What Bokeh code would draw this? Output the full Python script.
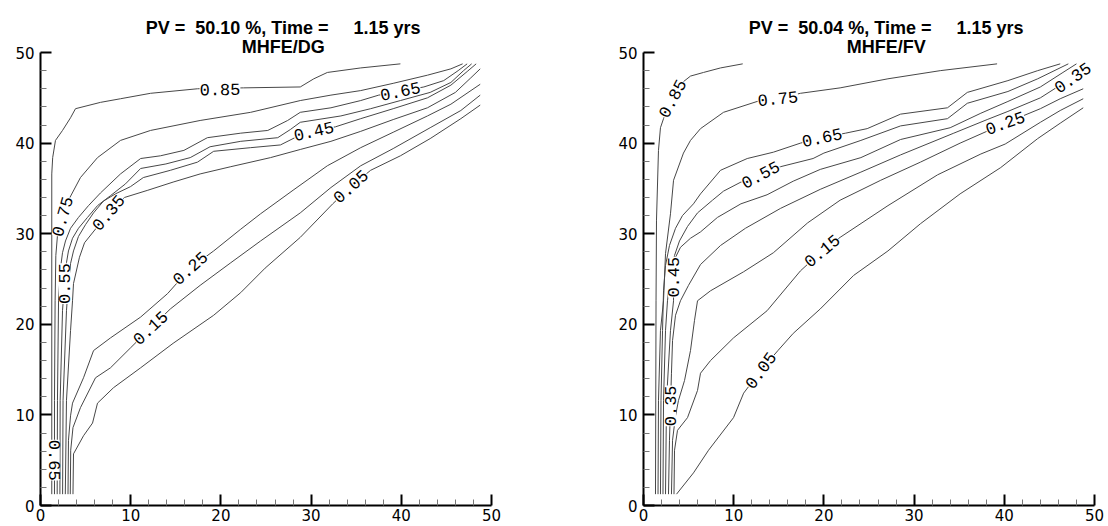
from bokeh.plotting import figure
from bokeh.layouts import row
from bokeh.models import Range1d, FixedTicker
from bokeh.core.properties import value
from bokeh.embed import file_html
from bokeh.resources import INLINE

# ---------------- shared axis data ----------------
major_ticks = [0, 10, 20, 30, 40, 50]
minor_ticks = [v for v in range(0, 51, 2) if v % 10 != 0]

# ---------------- panel 1: MHFE/DG ----------------
dg_title_1 = "PV =  50.10 %, Time =     1.15 yrs"
dg_title_2 = "MHFE/DG"

dg_085_x = [1.25, 1.25, 1.35, 1.66, 2.44, 3.33, 3.88, 6.65, 8.87, 12.2, 17.4, 22.5, 28.8, 30.3, 31.8, 35.5, 39.9]
dg_085_y = [1.25, 36.6, 38.4, 40.3, 41.4, 42.8, 43.8, 44.5, 44.9, 45.5, 46.0, 46.1, 46.2, 47.1, 47.8, 48.3, 48.75]
dg_075_x = [1.55, 1.55, 1.62, 1.7, 1.88, 2.44, 3.10, 4.43, 6.32, 8.87, 12.2, 17.7, 23.3, 28.8, 32.2, 35.5, 39.1, 42.9, 45.5, 46.8]
dg_075_y = [1.25, 11.6, 22.6, 27.6, 29.8, 31.9, 33.7, 36.2, 38.4, 40.3, 41.4, 42.5, 43.4, 44.7, 45.3, 45.8, 46.6, 47.5, 48.2, 48.75]
dg_065_x = [1.85, 1.88, 2.0, 2.22, 2.44, 2.77, 3.33, 4.21, 5.32, 6.65, 8.87, 11.1, 13.3, 15.9, 18.5, 22.2, 25.2, 27.4, 28.8, 32.2, 35.5, 37.5, 39.9, 42.5, 44.7, 46.3, 47.3]
dg_065_y = [1.25, 11.6, 22.6, 26.2, 27.9, 29.2, 30.6, 31.8, 33.1, 34.5, 36.6, 38.3, 38.6, 39.2, 40.6, 41.1, 41.4, 42.5, 43.4, 43.9, 44.7, 45.3, 45.7, 46.2, 46.9, 48.0, 48.75]
dg_055_x = [2.15, 2.18, 2.44, 2.66, 2.88, 3.10, 3.55, 4.21, 5.21, 6.32, 7.76, 9.42, 11.1, 13.9, 16.6, 18.8, 22.2, 26.3, 27.7, 28.8, 33.3, 36.6, 39.9, 43.2, 45.5, 46.9, 47.8]
dg_055_y = [1.25, 11.6, 21.5, 24.5, 26.8, 28.1, 29.5, 30.6, 31.8, 33.1, 34.2, 35.5, 37.2, 37.7, 38.4, 39.6, 40.2, 40.6, 41.5, 42.3, 43.0, 43.8, 44.7, 45.6, 46.7, 48.0, 48.75]
dg_045_x = [2.45, 2.5, 2.88, 3.10, 3.33, 3.66, 4.21, 4.99, 5.88, 6.98, 8.31, 9.98, 11.4, 14.4, 17.4, 19.2, 23.3, 26.6, 28.4, 30.3, 32.7, 35.5, 39.1, 42.9, 45.5, 47.3, 48.3]
dg_045_y = [1.25, 11.6, 21.5, 24.5, 26.7, 28.1, 29.7, 31.0, 32.3, 33.6, 34.4, 35.2, 36.2, 37.0, 37.9, 39.1, 39.5, 39.8, 40.7, 41.3, 41.8, 42.7, 43.8, 45.0, 46.4, 47.9, 48.75]
dg_035_x = [2.75, 2.88, 3.33, 3.55, 3.66, 4.32, 4.88, 7.54, 9.31, 11.9, 14.7, 17.7, 21.1, 25.5, 28.8, 32.2, 35.5, 39.1, 42.9, 46.0, 47.7, 48.75]
dg_035_y = [1.25, 11.6, 19.3, 22.6, 24.5, 27.4, 29.0, 32.3, 34.0, 34.8, 35.7, 36.6, 37.4, 38.4, 39.3, 40.2, 41.3, 42.6, 43.9, 45.6, 47.2, 48.2]
dg_025_x = [3.05, 3.1, 3.33, 3.55, 4.77, 5.88, 7.76, 11.1, 14.1, 16.6, 19.2, 22.2, 24.4, 28.0, 31.8, 35.5, 39.1, 42.9, 45.5, 48.75]
dg_025_y = [1.25, 7.2, 9.9, 11.3, 14.1, 17.1, 18.5, 20.8, 23.4, 26.2, 28.1, 30.5, 32.2, 34.8, 37.5, 39.5, 41.2, 43.0, 44.3, 46.5]
dg_015_x = [3.3, 3.35, 3.6, 4.43, 6.10, 7.76, 9.98, 12.2, 14.4, 17.7, 21.1, 24.4, 28.8, 32.2, 35.5, 39.1, 43.2, 46.6, 48.75]
dg_015_y = [1.25, 6.1, 8.6, 10.8, 14.1, 15.2, 17.4, 19.6, 21.7, 24.3, 26.8, 29.2, 32.3, 35.1, 37.5, 39.4, 41.7, 43.6, 45.3]
dg_005_x = [3.6, 3.66, 4.77, 5.77, 6.32, 8.09, 11.1, 14.7, 19.2, 22.2, 24.9, 28.8, 32.4, 34.4, 36.6, 39.9, 43.2, 46.6, 48.75]
dg_005_y = [1.25, 5.7, 7.7, 9.1, 11.3, 13.0, 15.2, 17.9, 21.0, 23.5, 26.2, 29.6, 33.3, 35.2, 37.0, 38.6, 40.5, 42.7, 44.2]

dg_lab_text = ["0.85", "0.75", "0.65", "0.45", "0.35", "0.55", "0.65", "0.25", "0.15", "0.05"]
dg_lab_x = [19.9, 2.44, 39.9, 30.3, 7.54, 2.66, 1.5, 16.6, 12.2, 34.4]
dg_lab_y = [45.9, 31.9, 45.7, 41.3, 32.3, 24.5, 5.0, 26.2, 19.6, 35.2]
dg_lab_angle = [1, 74, 12, 13, 50, 90, -90, 42, 43, 42]

# ---------------- panel 2: MHFE/FV ----------------
fv_title_1 = "PV =  50.04 %, Time =     1.15 yrs"
fv_title_2 = "MHFE/FV"

fv_085_x = [1.33, 1.39, 1.44, 1.66, 1.88, 2.22, 3.22, 4.32, 5.21, 6.65, 8.54, 11.0]
fv_085_y = [1.25, 22.6, 31.5, 39.2, 41.7, 42.7, 44.9, 46.7, 47.4, 47.8, 48.3, 48.75]
fv_075_x = [1.61, 1.66, 1.88, 2.22, 2.44, 2.99, 3.33, 4.43, 5.21, 6.32, 8.87, 12.6, 14.9, 17.4, 21.8, 27.1, 32.9, 39.2]
fv_075_y = [1.25, 11.6, 19.3, 22.6, 27.8, 32.2, 35.9, 38.9, 40.3, 41.6, 43.4, 44.6, 44.9, 45.5, 46.1, 47.1, 48.0, 48.75]
fv_065_x = [1.88, 1.94, 2.11, 2.22, 2.44, 2.88, 3.55, 4.32, 5.54, 6.32, 8.54, 11.5, 14.4, 17.4, 19.8, 22.4, 24.8, 28.5, 33.7, 35.9, 40.4, 43.7, 46.2]
fv_065_y = [1.25, 11.6, 19.3, 23.7, 26.5, 28.7, 30.6, 32.0, 33.3, 34.4, 37.0, 38.3, 39.0, 40.0, 40.6, 41.1, 41.6, 43.2, 43.9, 45.6, 46.9, 48.0, 48.75]
fv_055_x = [2.16, 2.22, 2.44, 2.66, 2.99, 3.44, 3.99, 4.88, 5.99, 7.65, 8.87, 10.8, 13.0, 15.2, 18.8, 20.0, 24.1, 28.5, 33.7, 35.9, 40.4, 43.7, 47.1]
fv_055_y = [1.25, 11.6, 19.3, 22.6, 25.4, 27.6, 29.2, 30.8, 32.3, 33.7, 34.7, 35.7, 36.5, 37.4, 38.3, 38.9, 40.3, 41.9, 42.7, 44.4, 45.7, 47.1, 48.75]
fv_045_x = [2.44, 2.55, 2.99, 3.33, 3.33, 3.55, 4.10, 5.21, 6.32, 8.20, 10.8, 13.7, 16.6, 19.6, 24.1, 28.5, 34.0, 37.4, 40.4, 44.0, 46.5, 48.0]
fv_045_y = [1.25, 11.6, 19.3, 22.6, 25.2, 27.4, 28.5, 29.5, 30.2, 31.8, 33.3, 34.3, 35.8, 37.1, 38.4, 40.4, 41.7, 43.3, 44.6, 46.2, 47.8, 48.75]
fv_035_x = [2.77, 2.88, 2.99, 3.10, 3.22, 3.55, 4.10, 4.99, 6.32, 8.54, 11.3, 15.2, 19.6, 24.1, 28.5, 34.4, 38.1, 40.4, 44.0, 46.2, 47.6, 48.75]
fv_035_y = [1.25, 7.2, 11.0, 14.6, 18.2, 21.0, 22.6, 24.3, 26.6, 28.7, 30.6, 32.8, 34.9, 36.8, 38.7, 41.1, 42.6, 43.5, 45.0, 46.4, 47.2, 48.1]
fv_025_x = [3.10, 3.22, 3.55, 3.88, 4.55, 5.21, 5.65, 5.99, 7.43, 11.1, 14.4, 18.2, 21.8, 26.3, 30.7, 35.1, 40.1, 44.0, 46.2, 48.75]
fv_025_y = [1.25, 7.2, 9.9, 11.6, 13.8, 17.1, 20.4, 22.6, 23.7, 25.8, 27.9, 31.2, 33.7, 35.9, 37.9, 40.0, 42.2, 43.8, 44.9, 46.0]
fv_015_x = [3.38, 3.44, 3.77, 4.88, 5.99, 6.32, 7.43, 9.98, 13.7, 17.4, 19.8, 21.8, 27.1, 32.6, 37.4, 40.1, 44.0, 46.2, 48.75]
fv_015_y = [1.25, 6.1, 8.3, 9.7, 12.7, 14.6, 16.0, 18.5, 21.5, 25.9, 28.1, 29.6, 33.1, 36.5, 38.8, 39.9, 42.3, 43.6, 44.9]
fv_005_x = [3.66, 5.54, 7.21, 9.98, 11.1, 13.0, 14.9, 16.6, 19.6, 23.3, 27.1, 30.7, 35.1, 39.6, 43.7, 46.2, 48.75]
fv_005_y = [1.25, 3.6, 6.1, 9.7, 12.4, 14.9, 17.1, 19.0, 21.7, 25.4, 28.1, 31.1, 34.4, 37.3, 40.5, 42.2, 43.9]

fv_lab_text = ["0.85", "0.75", "0.65", "0.55", "0.45", "0.35", "0.35", "0.25", "0.15", "0.05"]
fv_lab_x = [3.22, 14.9, 19.8, 13.0, 3.33, 2.99, 47.6, 40.1, 19.8, 13.0]
fv_lab_y = [44.9, 44.9, 40.6, 36.5, 25.2, 11.0, 47.2, 42.2, 28.1, 14.9]
fv_lab_angle = [62, 6, 12, 28, 90, 90, 35, 20, 40, 54]

# ---------------- drawing ----------------
LINE_COLOR = "#474747"
Y_TOP = 54.64        # frame extends above the axis so the titles sit inside it
TITLE_X = 26.9
TITLE_Y = [52.76, 50.66]


def make_panel(xs, ys, lab_text, lab_x, lab_y, lab_angle, t1, t2,
               border_left, border_right):
    p = figure(x_range=Range1d(0, 50), y_range=Range1d(0, Y_TOP),
               frame_width=451, frame_height=495,
               min_border_left=border_left, min_border_right=border_right,
               min_border_top=10, min_border_bottom=21,
               output_backend="svg", toolbar_location=None,
               outline_line_color=None, background_fill_color="white",
               border_fill_color="white")
    p.xgrid.visible = False
    p.ygrid.visible = False
    p.yaxis.bounds = (0, 50)
    for ax in (p.xaxis[0], p.yaxis[0]):
        ax.ticker = FixedTicker(ticks=major_ticks, minor_ticks=minor_ticks)
        ax.axis_line_width = 2
        ax.axis_line_color = "black"
        ax.major_tick_in = 11
        ax.major_tick_out = 0
        ax.major_tick_line_width = 2
        ax.major_tick_line_color = "black"
        ax.minor_tick_in = 6
        ax.minor_tick_out = 0
        ax.minor_tick_line_width = 1
        ax.minor_tick_line_color = "#777777"
        ax.major_label_text_font = "DejaVu Sans"
        ax.major_label_text_font_size = "15px"
        ax.major_label_text_color = "black"
    p.xaxis.major_label_standoff = 3
    p.yaxis.major_label_standoff = 6

    p.multi_line(xs=xs, ys=ys, line_color=LINE_COLOR, line_width=1)
    p.text(x=lab_x, y=lab_y, text=lab_text, angle=lab_angle, angle_units="deg",
           text_font=value("Liberation Mono"), text_font_size="17px",
           text_color="black", text_align="center", text_baseline="middle",
           background_fill_color="white", text_line_height=1.0)

    nb = "\u00a0"
    p.text(x=[TITLE_X, TITLE_X], y=TITLE_Y,
           text=[t1.replace(" ", nb), t2.replace(" ", nb)],
           text_font=value("Liberation Sans"), text_font_style="bold",
           text_font_size="18px", text_color="black",
           text_align="center", text_baseline="alphabetic")
    return p


dg_xs = [dg_005_x, dg_015_x, dg_025_x, dg_035_x, dg_045_x, dg_055_x, dg_065_x, dg_075_x, dg_085_x]
dg_ys = [dg_005_y, dg_015_y, dg_025_y, dg_035_y, dg_045_y, dg_055_y, dg_065_y, dg_075_y, dg_085_y]
fv_xs = [fv_005_x, fv_015_x, fv_025_x, fv_035_x, fv_045_x, fv_055_x, fv_065_x, fv_075_x, fv_085_x]
fv_ys = [fv_005_y, fv_015_y, fv_025_y, fv_035_y, fv_045_y, fv_055_y, fv_065_y, fv_075_y, fv_085_y]

p1 = make_panel(dg_xs, dg_ys, dg_lab_text, dg_lab_x, dg_lab_y, dg_lab_angle,
                dg_title_1, dg_title_2, 40, 40)
p2 = make_panel(fv_xs, fv_ys, fv_lab_text, fv_lab_x, fv_lab_y, fv_lab_angle,
                fv_title_1, fv_title_2, 112, 12)

layout = row(p1, p2)
open("out.html", "w").write(file_html(layout, INLINE))
